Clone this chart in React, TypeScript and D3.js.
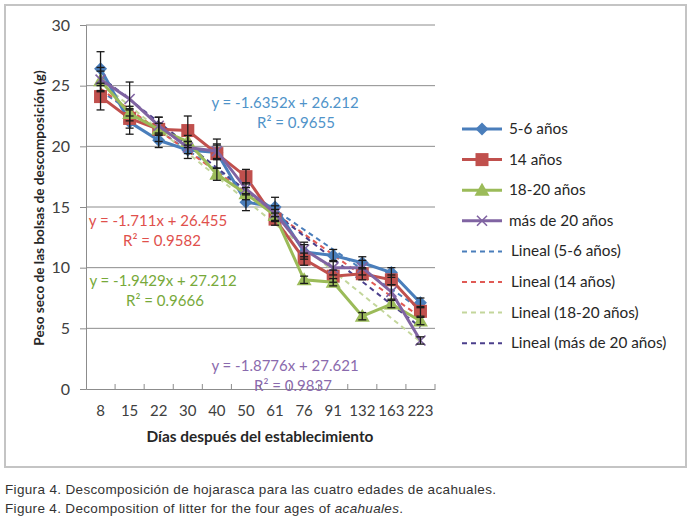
import * as d3 from "d3";
import { useEffect, useRef } from "react";

// Days after establishment (categories)
const days = ["8", "15", "22", "30", "40", "50", "61", "76", "91", "132", "163", "223"];

const seriesNames = ["5-6 años", "14 años", "18-20 años", "más de 20 años"];

const age56 = [26.4, 22.0, 20.5, 19.7, 19.5, 15.4, 15.0, 11.3, 11.0, 10.4, 9.6, 7.1];
const age14 = [24.1, 22.3, 21.4, 21.3, 19.4, 17.5, 14.0, 10.7, 9.3, 9.5, 9.0, 6.4];
const age1820 = [25.4, 22.7, 21.4, 20.4, 17.7, 16.1, 14.3, 9.0, 8.8, 6.0, 7.0, 5.6];
const age20plus = [25.5, 23.9, 21.7, 19.9, 19.6, 16.5, 14.5, 11.5, 10.0, 10.0, 8.0, 4.0];

// error bar half-widths
const err56 = [1.4, 1.0, 0.6, 0.7, 0.6, 0.7, 0.8, 0.6, 0.5, 0.5, 0.4, 0.4];
const err14 = [1.1, 0.8, 1.0, 1.2, 1.2, 0.6, 0.5, 0.5, 0.5, 0.5, 0.4, 0.4];
const err1820 = [0.8, 0.6, 0.5, 0.5, 0.5, 0.5, 0.5, 0.3, 0.3, 0.3, 0.3, 0.3];
const err20plus = [1.0, 1.4, 0.7, 0.5, 0.6, 0.5, 0.6, 0.6, 0.6, 0.6, 0.6, 0.3];

// linear trendlines printed on the chart
const slopes = [-1.6352, -1.711, -1.9429, -1.8776];
const intercepts = [26.212, 26.455, 27.212, 27.621];
const rSquared = ["0.9655", "0.9582", "0.9666", "0.9837"];

const yTicks = [0, 5, 10, 15, 20, 25, 30];

const colors = ["#4a7ebb", "#c0504d", "#9bbb59", "#8064a2"];
const trendColors = ["#4a7ebb", "#e05a55", "#c3d69b", "#4b3f8c"];
const labelColors = ["#4f93c9", "#e0504c", "#77a93a", "#8a6aad"];
const markers = ["diamond", "square", "triangle", "cross"];

const FONT = "Lato, 'Open Sans', sans-serif";

export default function App() {
  const svgRef = useRef<SVGSVGElement | null>(null);

  useEffect(() => {
    if (!svgRef.current) return;
    const svg = d3.select(svgRef.current);
    svg.selectAll("*").remove();

    const values = [age56, age14, age1820, age20plus];
    const errors = [err56, err14, err1820, err20plus];

    const x = d3.scaleBand().domain(days).range([86, 435]);
    const y = d3.scaleLinear().domain([0, 30]).range([389, 25]);
    const cx = (d: string) => (x(d) ?? 0) + x.bandwidth() / 2;

    // frame
    svg.append("rect")
      .attr("x", 5).attr("y", 5).attr("width", 681).attr("height", 462)
      .attr("fill", "#fff").attr("stroke", "#c4c4c4").attr("stroke-width", 2);

    // gridlines
    svg.append("g").selectAll("line").data(yTicks.filter((t) => t > 0)).join("line")
      .attr("x1", 86).attr("x2", 435)
      .attr("y1", (d) => y(d)).attr("y2", (d) => y(d))
      .attr("stroke", "#8c8c8c").attr("stroke-width", 1);

    // y axis
    const yAxis = svg.append("g").attr("transform", "translate(86,0)")
      .call(d3.axisLeft(y).tickValues(yTicks).tickSize(6).tickPadding(10));
    yAxis.select(".domain").attr("stroke", "#8c8c8c");
    yAxis.selectAll(".tick line").attr("stroke", "#8c8c8c");
    yAxis.selectAll("text").attr("font-family", FONT).attr("font-size", 16).attr("fill", "#404040");

    // x axis
    const xAxis = svg.append("g").attr("transform", `translate(0,${y(0)})`)
      .call(d3.axisBottom(x).tickSize(0).tickPadding(16));
    xAxis.select(".domain").attr("stroke", "#8c8c8c");
    xAxis.selectAll("text").attr("font-family", FONT).attr("font-size", 15).attr("fill", "#404040");
    svg.append("g").selectAll("line").data(days).join("line")
      .attr("x1", (d) => (x(d) ?? 0) + x.bandwidth()).attr("x2", (d) => (x(d) ?? 0) + x.bandwidth())
      .attr("y1", y(0)).attr("y2", y(0) - 5)
      .attr("stroke", "#8c8c8c");

    // titles
    svg.append("text")
      .attr("x", 260).attr("y", 442).attr("text-anchor", "middle")
      .attr("font-family", FONT).attr("font-weight", 700).attr("font-size", 15.4).attr("fill", "#262626")
      .text("Días después del establecimiento");
    svg.append("text")
      .attr("transform", "translate(44,208) rotate(-90)").attr("text-anchor", "middle")
      .attr("font-family", FONT).attr("font-weight", 700).attr("font-size", 13.6).attr("fill", "#262626")
      .text("Peso seco de las bolsas de descomposición (g)");

    const line = d3.line<number>().x((_, i) => cx(days[i])).y((d) => y(d));

    // trendlines
    values.forEach((_, s) => {
      const ends = [1, days.length].map((i) => slopes[s] * i + intercepts[s]);
      svg.append("path")
        .attr("d", d3.line<number>().x((_, i) => cx(days[i === 0 ? 0 : days.length - 1])).y((d) => y(d))(ends))
        .attr("fill", "none").attr("stroke", trendColors[s]).attr("stroke-width", 2)
        .attr("stroke-dasharray", "5,4");
    });

    const drawMarker = (g: d3.Selection<SVGGElement, unknown, null, undefined>, s: number, px: number, py: number) => {
      const c = colors[s];
      if (markers[s] === "diamond") {
        g.append("path").attr("d", `M${px},${py - 6.5}L${px + 6.5},${py}L${px},${py + 6.5}L${px - 6.5},${py}Z`).attr("fill", c);
      } else if (markers[s] === "square") {
        g.append("rect").attr("x", px - 6.5).attr("y", py - 6.5).attr("width", 13).attr("height", 13).attr("fill", c);
      } else if (markers[s] === "triangle") {
        g.append("path").attr("d", `M${px},${py - 7.5}L${px + 7.5},${py + 5.5}L${px - 7.5},${py + 5.5}Z`).attr("fill", c);
      } else {
        g.append("path").attr("d", `M${px - 5},${py - 5}L${px + 5},${py + 5}M${px + 5},${py - 5}L${px - 5},${py + 5}`)
          .attr("stroke", "#8064a2").attr("stroke-width", 1.6);
      }
    };

    // series lines and markers
    values.forEach((vals, s) => {
      svg.append("path").attr("d", line(vals)).attr("fill", "none")
        .attr("stroke", colors[s]).attr("stroke-width", 3);
      const g = svg.append("g");
      vals.forEach((v, i) => drawMarker(g, s, cx(days[i]), y(v)));
    });

    // error bars
    const eb = svg.append("g").attr("stroke", "#1a1a1a").attr("stroke-width", 1.3);
    values.forEach((vals, s) => {
      vals.forEach((v, i) => {
        const px = cx(days[i]);
        const e = errors[s][i];
        eb.append("line").attr("x1", px).attr("x2", px).attr("y1", y(v + e)).attr("y2", y(v - e));
        [v + e, v - e].forEach((w) => {
          eb.append("line").attr("x1", px - 4).attr("x2", px + 4).attr("y1", y(w)).attr("y2", y(w));
        });
      });
    });

    // equation labels
    const eqPos = [
      { x: 285, y: 108, r: 11 },
      { x: 158, y: 226, r: 4 },
      { x: 163, y: 286, r: 2 },
      { x: 285, y: 371, r: 8 },
    ];
    slopes.forEach((m, s) => {
      const t = svg.append("text").attr("text-anchor", "middle")
        .attr("font-family", FONT).attr("font-size", 15).attr("fill", labelColors[s]);
      t.append("tspan").attr("x", eqPos[s].x).attr("y", eqPos[s].y)
        .text(`y = ${m}x + ${intercepts[s]}`);
      t.append("tspan").attr("x", eqPos[s].x + eqPos[s].r).attr("y", eqPos[s].y + 20)
        .text(`R² = ${rSquared[s]}`);
    });

    // legend
    const lg = svg.append("g").attr("transform", "translate(462,129)");
    const legendItems = [
      ...seriesNames.map((n, s) => ({ label: n, s, trend: false })),
      ...seriesNames.map((n, s) => ({ label: `Lineal (${n})`, s, trend: true })),
    ];
    legendItems.forEach((it, k) => {
      const gy = k * 30.6;
      const g = lg.append("g");
      if (it.trend) {
        g.append("line").attr("x1", 0).attr("x2", 40).attr("y1", gy).attr("y2", gy)
          .attr("stroke", trendColors[it.s]).attr("stroke-width", 2).attr("stroke-dasharray", "5,4");
      } else {
        g.append("line").attr("x1", 0).attr("x2", 40).attr("y1", gy).attr("y2", gy)
          .attr("stroke", colors[it.s]).attr("stroke-width", 3);
        drawMarker(g, it.s, 20, gy);
      }
      g.append("text").attr("x", it.trend ? 49 : 47).attr("y", gy + 5)
        .attr("font-family", FONT).attr("font-size", 15.3).attr("fill", "#262626")
        .text(it.label);
    });

    // caption
    const cap = svg.append("g").attr("font-family", "'Liberation Sans', Arial, sans-serif")
      .attr("font-size", 13.5).attr("fill", "#333");
    cap.append("text").attr("x", 5).attr("y", 494)
      .attr("textLength", 491).attr("lengthAdjust", "spacing")
      .text("Figura 4. Descomposición de hojarasca para las cuatro edades de acahuales.");
    const c2 = cap.append("text").attr("x", 5).attr("y", 513)
      .attr("textLength", 398).attr("lengthAdjust", "spacing");
    c2.append("tspan").text("Figure 4. Decomposition of litter for the four ages of ");
    c2.append("tspan").attr("font-style", "italic").text("acahuales");
    c2.append("tspan").text(".");
  }, []);

  return (
    <svg
      ref={svgRef}
      width={694}
      height={522}
      style={{ position: "absolute", left: 0, top: 0, background: "#fff" }}
    />
  );
}
